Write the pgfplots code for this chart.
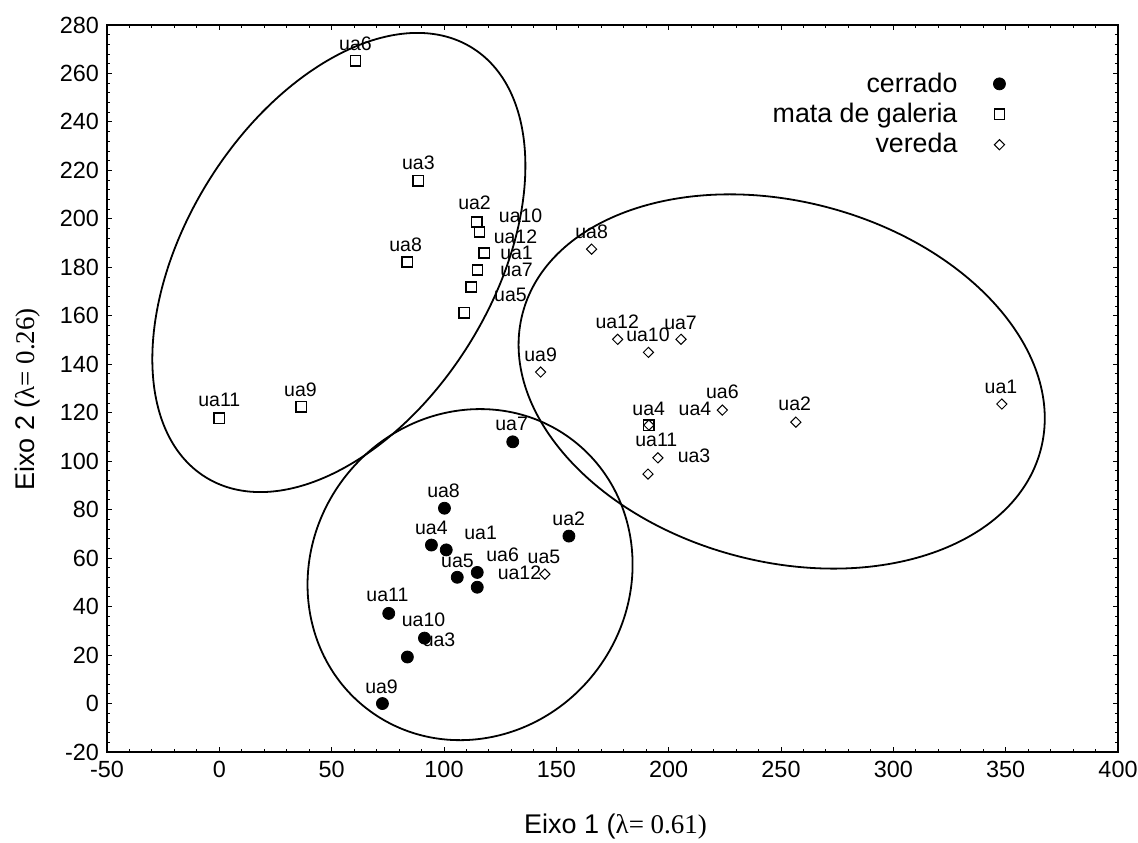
\documentclass[border=0pt]{standalone}
\usepackage{fontspec}
\setmainfont{Liberation Sans}
\newfontfamily\tnr{Liberation Serif}
\usepackage{pgfplots}
\pgfplotsset{compat=1.18}
\newcommand\lab[3]{\node[font=\fontsize{9.75}{11}\selectfont, inner sep=0pt] at (axis cs:#1,#2) {#3};}
\begin{document}
\begin{tikzpicture}
\path[use as bounding box] (-53.5pt,-45pt) rectangle (515.5pt,376pt);
\begin{axis}[
  scale only axis, width=505.5pt, height=363.5pt,
  xmin=-50, xmax=400, ymin=-20, ymax=280,
  xtick={-50,0,...,400}, ytick={-20,0,...,280},
  minor x tick num=4, minor y tick num=4,
  tick align=inside, major tick length=2.5pt, minor tick length=1.5pt,
  tick style={black, line width=0.5pt},
  axis line style={line width=0.8pt},
  ticklabel style={font=\fontsize{11.7}{13}\selectfont},
  xticklabel style={yshift=-1.2pt},
  yticklabel style={xshift=-0.5pt},
  /pgf/number format/assume math mode=true,
  clip=false,
  xlabel={Eixo 1 ({\tnr λ= 0.61)}},
  ylabel={Eixo 2 ({\tnr λ= 0.26)}},
  every axis x label/.style={at={(axis description cs:0.503,-0.1032)}, anchor=center, font=\fontsize{13.5}{15}\selectfont},
  every axis y label/.style={at={(axis description cs:-0.0781,0.485)}, anchor=center, rotate=90, font=\fontsize{13.5}{15}\selectfont},
  legend style={draw=none, fill=none, at={(0.895,0.946)}, anchor=north east,
    font=\fontsize{13.4}{15}\selectfont, row sep=0pt, column sep=16pt},
  legend cell align=right,
  legend plot pos=right,
]
\addplot[only marks, mark=*, mark size=3pt, black] coordinates {
 (130.6,108.0) (100.2,80.6) (94.4,65.4) (101.0,63.4) (155.6,69.1) (105.9,52.1)
 (114.8,54.1) (114.8,48.0) (75.4,37.2) (91.3,27.0) (83.7,19.2) (72.6,0.0)};
\addlegendentry{cerrado}
\addplot[only marks, mark=square, mark size=2.6pt, black, line width=0.75pt] coordinates {
 (60.6,265.2) (88.6,215.7) (114.5,198.7) (115.8,194.6) (118.0,185.9) (114.9,178.9)
 (112.2,171.9) (109.1,161.2) (83.7,182.2) (0.0,117.8) (36.5,122.4) (191.1,114.9)};
\addlegendentry{mata de galeria}
\addplot[only marks, mark=square, mark options={rotate=45}, mark size=1.8pt, black, line width=0.5pt] coordinates {
 (165.7,187.5) (177.3,150.3) (191.0,144.9) (205.5,150.3) (143.0,136.8) (223.9,121.1)
 (191.2,114.9) (256.6,116.1) (195.2,101.4) (190.8,94.7) (348.3,123.6) (144.9,53.4)};
\addlegendentry{vereda}
% ellipses
\draw[line width=0.9pt] (axis cs:53.2,182.0) ellipse [x radius=126.35pt, y radius=76.85pt, rotate=58.2];
\draw[line width=0.9pt] (axis cs:250.3,132.9) ellipse [x radius=133.95pt, y radius=90.05pt, rotate=-14.8];
\draw[line width=0.9pt] (axis cs:111.6,53.2) ellipse [x radius=84.6pt, y radius=79.35pt, rotate=53.3];
% labels cerrado
\lab{130.1}{115.4}{ua7}
\lab{99.8}{87.7}{ua8}
\lab{94.4}{72.4}{ua4}
\lab{116.3}{70.4}{ua1}
\lab{155.5}{76.1}{ua2}
\lab{106.0}{58.8}{ua5}
\lab{126.1}{61.4}{ua6}
\lab{133.6}{54.0}{ua12}
\lab{74.8}{44.8}{ua11}
\lab{90.9}{34.5}{ua10}
\lab{97.8}{26.2}{ua3}
\lab{72.2}{6.8}{ua9}
% labels mata de galeria
\lab{60.6}{272.2}{ua6}
\lab{88.6}{223.1}{ua3}
\lab{113.6}{206.8}{ua2}
\lab{134.1}{201.2}{ua10}
\lab{131.8}{192.7}{ua12}
\lab{132.3}{185.9}{ua1}
\lab{132.3}{178.9}{ua7}
\lab{129.6}{168.6}{ua5}
\lab{82.9}{189.2}{ua8}
\lab{0.0}{125.3}{ua11}
\lab{36.1}{129.4}{ua9}
\lab{191.1}{121.5}{ua4}
% labels vereda
\lab{165.7}{194.6}{ua8}
\lab{177.1}{157.6}{ua12}
\lab{190.8}{152.1}{ua10}
\lab{205.3}{157.2}{ua7}
\lab{143.0}{143.8}{ua9}
\lab{223.9}{128.7}{ua6}
\lab{211.7}{121.5}{ua4}
\lab{256.1}{123.9}{ua2}
\lab{194.5}{109.0}{ua11}
\lab{211.3}{102.1}{ua3}
\lab{347.9}{130.7}{ua1}
\lab{144.5}{60.6}{ua5}
\end{axis}
\end{tikzpicture}
\end{document}
